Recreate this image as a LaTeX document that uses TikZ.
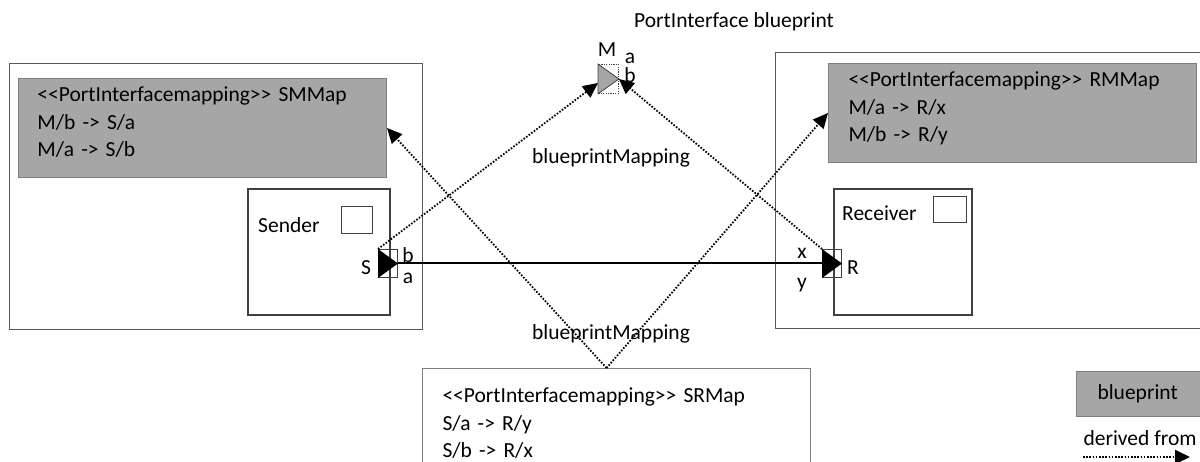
\documentclass[tikz,border=0pt]{standalone}
\usepackage{fontspec}
\setmainfont{Carlito}[Ligatures=TeXOff]
\usetikzlibrary{arrows.meta}
\definecolor{bpgray}{HTML}{A6A6A6}
\definecolor{edgegray}{HTML}{7F7F7F}
\definecolor{contgray}{HTML}{595959}
\definecolor{compgray}{HTML}{404040}
\begin{document}
\begin{tikzpicture}[x=1pt,y=-1pt,
  every node/.style={font=\fontsize{21.5}{27.5}\selectfont, inner sep=0pt},
  container/.style={draw=contgray, line width=1.2pt, anchor=north west},
  bpbox/.style={draw=edgegray, fill=bpgray, line width=1pt, align=left, anchor=north west, inner ysep=0pt},
  mapbox/.style={draw=edgegray, fill=white, line width=1pt, align=left, anchor=north west},
  compbox/.style={draw=compgray, line width=2.4pt, anchor=north west},
  smallsq/.style={draw=compgray, line width=1pt, anchor=north west},
  portsq/.style={draw=compgray, line width=1pt, anchor=north west, minimum width=19pt, minimum height=28pt},
  mportsq/.style={draw=compgray, line width=0.9pt, dash pattern=on 1.2pt off 1.2pt, anchor=north west, minimum width=20pt, minimum height=29pt},
  solidconn/.style={draw=black, line width=2pt},
  derived/.style={draw=black, line width=1.8pt, dash pattern=on 1.6pt off 1.6pt, -{Triangle[length=15pt,width=14pt]}}
]
\useasboundingbox (0,0) rectangle (1200,462);
\clip (0,0) rectangle (1200,462);

% containers
\node[container, minimum width=413pt, minimum height=266pt] (leftcomp) at (9,63) {};
\node[container, minimum width=440pt, minimum height=276pt] (rightcomp) at (775,52) {};

% blueprint mapping boxes
\node[bpbox, minimum height=99pt, text width=330pt, inner xsep=19pt] (smmap) at (18,78)
  {<<PortInterfacemapping>> SMMap\\M/b -> S/a\\M/a -> S/b\rule[-12pt]{0pt}{12pt}};
\node[bpbox, minimum height=99pt, text width=328pt, inner xsep=20pt] (rmmap) at (828,63)
  {<<PortInterfacemapping>> RMMap\\M/a -> R/x\\M/b -> R/y\rule[-12pt]{0pt}{12pt}};
\node[mapbox, minimum height=110pt, text width=348pt, inner xsep=20pt, inner ysep=14pt] (srmap) at (422,368)
  {<<PortInterfacemapping>> SRMap\\S/a -> R/y\\S/b -> R/x};

% title and M port
\node (title) at (734,22) {PortInterface blueprint};
\node[mportsq] (mport) at (598,64) {};
\filldraw[fill=bpgray, draw=compgray, line width=0.8pt] (mport.north west) -- (mport.east) -- (mport.south west) -- cycle;
\node (mlabel) at (607,50) {M};
\node (malabel) at (630,58) {a};
\node (mblabel) at (630,75) {b};

% sender
\node[compbox, minimum width=142pt, minimum height=126pt] (sender) at (247,188) {};
\node[anchor=west] (sendertxt) at (258,225) {Sender};
\node[smallsq, minimum width=31pt, minimum height=27pt] (sendersq) at (341,206) {};
\node[portsq] (sport) at (378,249) {};
\node (slabel) at (366,268) {S};
\node (sblabel) at (408,255) {b};
\node (salabel) at (408,278) {a};

% receiver
\node[compbox, minimum width=138pt, minimum height=126pt] (receiver) at (833,188) {};
\node[anchor=west] (receivertxt) at (842,213) {Receiver};
\node[smallsq, minimum width=33pt, minimum height=26pt] (receiversq) at (933,196) {};
\node[portsq] (rport) at (822,249) {};
\node (rlabel) at (853,268) {R};
\node (rxlabel) at (802,253) {x};
\node (rylabel) at (802,285) {y};

% solid connector
\draw[solidconn] (sport.east) -- (rport.west);
\fill[black] (sport.north west) -- (sport.east) -- (sport.south west) -- cycle;
\fill[black] (rport.north west) -- (rport.east) -- (rport.south west) -- cycle;

% labels
\node (bpmap1) at (611,158) {blueprintMapping};
\node (bpmap2) at (611,334) {blueprintMapping};

% derived-from connectors
\coordinate (meet) at ([xshift=-10pt]srmap.north);
\draw[derived] (sport.north west) -- ([yshift=-4pt]mport.west);
\draw[derived] (rport.north west) -- (mport.east);
\draw[derived] (meet) -- (smmap.east);
\draw[derived] (meet) -- (rmmap.west);

% legend
\node[bpbox, minimum height=45pt, text width=100pt, inner xsep=21pt] (legbp) at (1076,371) {blueprint};
\node (legtxt) at (1140,438) {derived from};
\coordinate (legA) at (1083,457);
\coordinate (legB) at (1190,457);
\draw[derived] (legA) -- (legB);
\end{tikzpicture}
\end{document}
